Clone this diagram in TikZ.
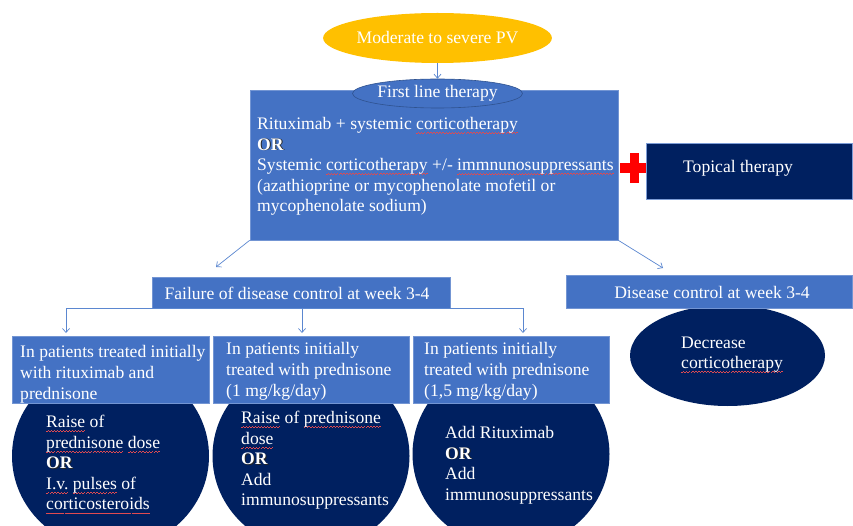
\documentclass[tikz,border=0pt]{standalone}
\usepackage{fontspec}
\setmainfont{Liberation Serif}
\usetikzlibrary{shapes.geometric,arrows.meta}
\definecolor{boxblue}{HTML}{4472C4}
\definecolor{navy}{HTML}{002060}
\definecolor{gold}{HTML}{FFC000}
\definecolor{edgeblue}{HTML}{2F528F}
\definecolor{lineblue}{HTML}{5B87D0}
\definecolor{squig}{HTML}{E04A50}
\newcommand\sqw[1]{\leavevmode\setbox0=\hbox{#1}\rlap{\textcolor{squig}{\hbox to \wd0{\xleaders\hbox{\rule[-4pt]{1.5pt}{0.65pt}\rule[-3.2pt]{1.5pt}{0.65pt}}\hfill}}}\box0\relax}
\newcommand\orb{\leavevmode\rlap{\hspace{0.9pt}\raisebox{-0.9pt}{\textcolor{black!85}{\textbf{OR}}}}\textbf{OR}}
\begin{document}
\begin{tikzpicture}[x=1pt,y=-1pt,
  every node/.style={font=\fontsize{17.6}{20.6}\selectfont, text=white},
  bluebox/.style={rectangle, fill=boxblue, draw=boxblue!75!white, line width=0.6pt, inner sep=0pt},
  navybox/.style={rectangle, fill=navy, draw=boxblue!70!white, line width=0.6pt, inner sep=0pt},
  navyell/.style={ellipse, fill=navy, inner sep=0pt, minimum width=197pt, minimum height=188pt},
  txt/.style={inner sep=0pt, align=left, anchor=north west},
  arr/.style={draw=lineblue, line width=0.7pt, -{Straight Barb[length=4pt,width=7pt]}}]
\path[use as bounding box, clip] (0,0) rectangle (853,526);
\fill[white] (0,0) rectangle (853,526);

% top
\node[ellipse, fill=gold, minimum width=181pt, minimum height=50pt, inner sep=0pt] (mod) at (437.5,38) {Moderate to severe PV};
\node[bluebox, minimum width=368pt, minimum height=150pt] (main) at (434,165) {};
\node[txt] (maint) at (257,117)
  {Rituximab + systemic \sqw{corticotherapy}\\
   \orb\\
   Systemic \sqw{corticotherapy} +/- \sqw{immnunosuppressants}\\
   (azathioprine or mycophenolate mofetil or\\
   mycophenolate sodium)};
\node[ellipse, fill=boxblue, draw=edgeblue, line width=0.6pt, minimum width=153pt, minimum height=29pt, inner sep=0pt] (first) at (437.5,93.5) {First line therapy};

% red cross and topical therapy
\fill[red] (630,153) rectangle (639,183);
\fill[red] (620,163) rectangle (648,173);
\node[navybox, minimum width=206pt, minimum height=56pt] (topical) at (749,171) {};
\node[inner sep=0pt] (topt) at (738,168) {Topical therapy};

% second level
\node[bluebox, minimum width=298pt, minimum height=31pt] (fail) at (301,292.5) {};
\node[inner sep=0pt] (failt) at (297,293) {Failure of disease control at week 3-4};
\node[navyell, minimum width=195pt, minimum height=101pt] (dec) at (727.5,355.5) {};
\node[txt] (dect) at (681,336.5) {Decrease\\ \sqw{corticotherapy}};
\node[bluebox, minimum width=286pt, minimum height=33pt] (ctrl) at (709,291.5) {};
\node[inner sep=0pt] (ctrlt) at (712,292) {Disease control at week 3-4};

% bottom ellipses
\node[navyell] (e1) at (110.5,456) {};
\node[navyell] (e2) at (311,456) {};
\node[navyell] (e3) at (511,454) {};

% bottom boxes
\node[bluebox, minimum width=197pt, minimum height=67pt] (b1) at (110.5,369.5) {};
\node[bluebox, minimum width=196pt, minimum height=67pt] (b2) at (311,369.5) {};
\node[bluebox, minimum width=196pt, minimum height=67pt] (b3) at (511,369.5) {};
\node[txt] (b1t) at (20,345.5) {In patients treated initially\\ with rituximab and\\ prednisone};
\node[txt] (b2t) at (226,342.5) {In patients initially\\ treated with prednisone\\ (1 mg/kg/day)};
\node[txt] (b3t) at (424,342.5) {In patients initially\\ treated with prednisone\\ (1,5 mg/kg/day)};

% ellipse texts
\node[txt] (e1t) at (46,415) {\sqw{Raise} of\\ \sqw{prednisone} \sqw{dose}\\ \orb\\ \sqw{I.v.} \sqw{pulses} of\\ \sqw{corticosteroids}};
\node[txt] (e2t) at (241,411) {\sqw{Raise} of \sqw{prednisone}\\ \sqw{dose}\\ \orb\\ Add\\ immunosuppressants};
\node[txt] (e3t) at (445,426) {Add Rituximab\\ \orb\\ Add\\ immunosuppressants};

% connectors
\coordinate (fl) at (216,267);
\coordinate (fr) at (663,268);
\coordinate (a1) at (66,333);
\coordinate (a2) at (302,333);
\coordinate (a3) at (523,333);
\draw[arr] (mod.south) -- (first.north);
\draw[arr] (main.south west) -- (fl);
\draw[arr] (main.south east) -- (fr);
\draw[arr] (fail.south) -| (a1);
\draw[arr] (fail.south -| a2) -- (a2);
\draw[arr] (fail.south) -| (a3);
\end{tikzpicture}
\end{document}
